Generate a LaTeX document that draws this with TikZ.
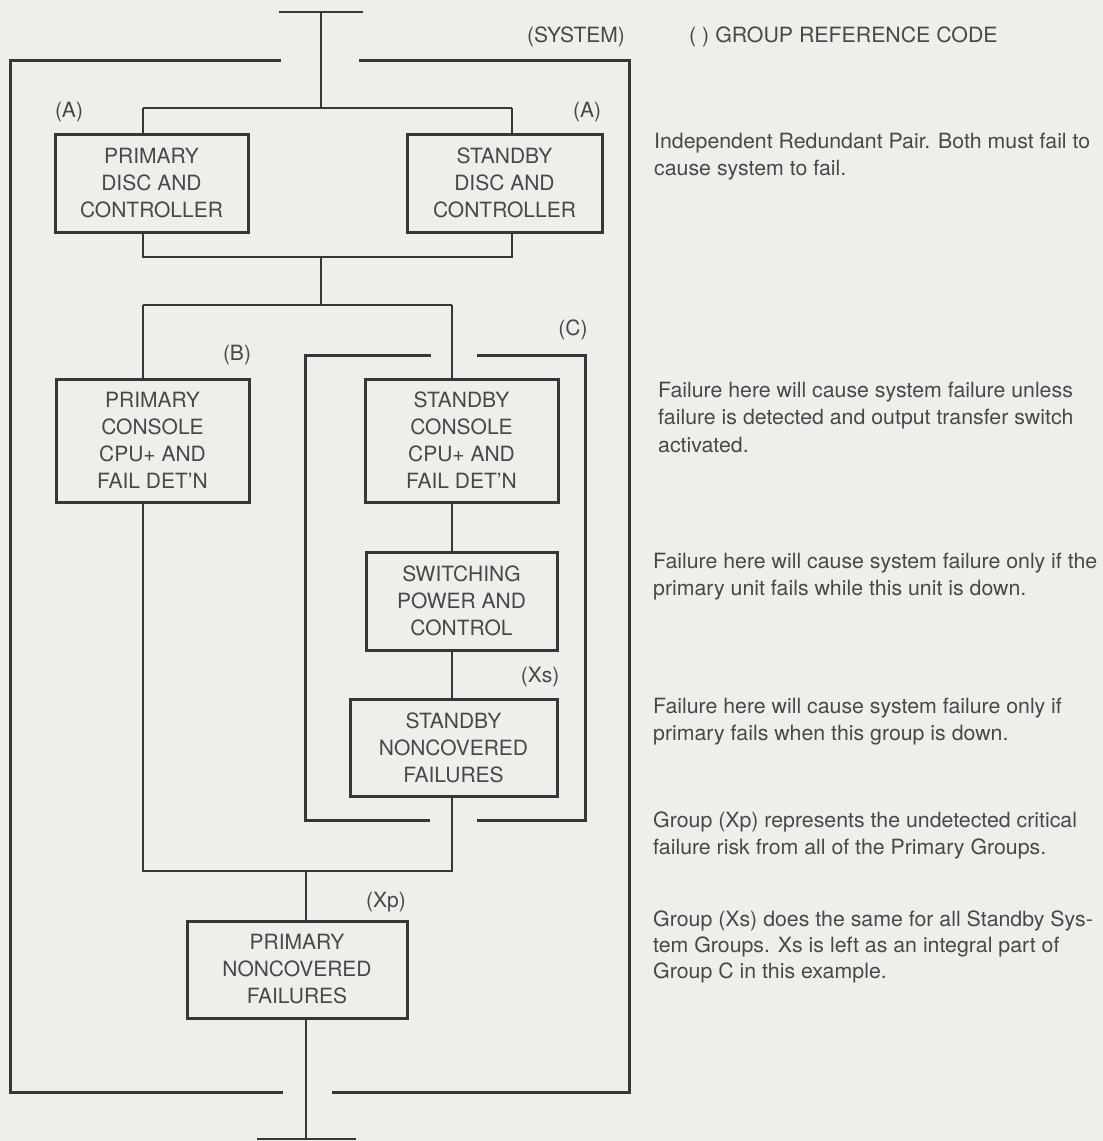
\documentclass[tikz,border=0pt]{standalone}
\usepackage{fontspec}
\setmainfont{TeX Gyre Heros}
\newfontfamily\notefam[FakeStretch=1.015]{TeX Gyre Heros}
\definecolor{bg}{RGB}{238,238,235}
\definecolor{ink}{RGB}{55,55,55}
\definecolor{txt}{RGB}{72,72,72}
\newcommand{\bxfont}{\fontsize{21}{27}\selectfont}
\newcommand{\ntfont}{\notefam\fontsize{21}{27}\selectfont}
\begin{document}
\begin{tikzpicture}[x=1pt,y=-1pt,
  conn/.style={draw=ink,line width=2pt},
  bracket/.style={draw=ink,line width=3pt,line join=miter},
  blk/.style={draw=ink,line width=3pt,align=center,text=txt,font=\bxfont,inner sep=0pt},
  lbl/.style={text=txt,font=\bxfont,inner sep=0pt},
  note/.style={text=txt,font=\ntfont,inner sep=0pt,anchor=base west}]
\fill[bg] (0,0) rectangle (1103,1141);
\useasboundingbox (0,0) rectangle (1103,1141);

% system bracket
\draw[bracket] (281,60) -- (10,60) -- (10,1092) -- (283,1092);
\draw[bracket] (359,60) -- (629,60) -- (629,1092) -- (332,1092);
% group C bracket
\draw[bracket] (431,355) -- (305,355) -- (305,820) -- (430,820);
\draw[bracket] (477,355) -- (585,355) -- (585,820) -- (477,820);

% boxes
\node[blk,minimum width=193pt,minimum height=98pt] (pd) at (151.5,183) {PRIMARY\\DISC AND\\CONTROLLER};
\node[blk,minimum width=195pt,minimum height=98pt] (sd) at (504.5,183) {STANDBY\\DISC AND\\CONTROLLER};
\node[blk,minimum width=193pt,minimum height=123pt] (pc) at (152.5,440.5) {PRIMARY\\CONSOLE\\CPU+ AND\\FAIL DET'N};
\node[blk,minimum width=193pt,minimum height=123pt] (sc) at (461.5,440.5) {STANDBY\\CONSOLE\\CPU+ AND\\FAIL DET'N};
\node[blk,minimum width=191pt,minimum height=98pt] (sw) at (461.5,601) {SWITCHING\\POWER AND\\CONTROL};
\node[blk,minimum width=207pt,minimum height=97pt] (snc) at (453.5,747.5) {STANDBY\\NONCOVERED\\FAILURES};
\node[blk,minimum width=220pt,minimum height=97pt] (pnc) at (297,969.5) {PRIMARY\\NONCOVERED\\FAILURES};

% junction coordinates
\coordinate (inTop) at (321,12);
\coordinate (inL) at (279,12);
\coordinate (inR) at (363,12);
\coordinate (jA1) at (321,108);
\coordinate (jA2) at (321,257);
\coordinate (jB1) at (321,305);
\coordinate (a1) at (143,108);
\coordinate (a2) at (512,108);
\coordinate (a3) at (143,257);
\coordinate (a4) at (512,257);
\coordinate (b1) at (143,305);
\coordinate (b2) at (452,305);
\coordinate (b3) at (143,871);
\coordinate (b4) at (452,871);
\coordinate (jB2) at (306,871);
\coordinate (out) at (306,1139);
\coordinate (outL) at (257,1139);
\coordinate (outR) at (356,1139);

% connectors
\draw[conn] (inL) -- (inR);
\draw[conn] (inTop) -- (jA1);
\draw[conn] (a1) -- (a2);
\draw[conn] (a1) -- (a1 |- pd.north);
\draw[conn] (a2) -- (a2 |- sd.north);
\draw[conn] (a1 |- pd.south) -- (a3) -- (a4) -- (a2 |- sd.south);
\draw[conn] (jA2) -- (jB1);
\draw[conn] (b1) -- (b2);
\draw[conn] (b1) -- (b1 |- pc.north);
\draw[conn] (b1 |- pc.south) -- (b3) -- (b4) -- (b2 |- snc.south);
\draw[conn] (b2) -- (b2 |- sc.north);
\draw[conn] (b2 |- sc.south) -- (b2 |- sw.north);
\draw[conn] (b2 |- sw.south) -- (b2 |- snc.north);
\draw[conn] (jB2) -- (jB2 |- pnc.north);
\draw[conn] (jB2 |- pnc.south) -- (out);
\draw[conn] (outL) -- (outR);

% group labels
\node[lbl] (lA1) at (69,112) {(A)};
\node[lbl] (lA2) at (587,112) {(A)};
\node[lbl] (lB) at (237,355) {(B)};
\node[lbl] (lC) at (573,330) {(C)};
\node[lbl] (lXs) at (540,677) {(Xs)};
\node[lbl] (lXp) at (386,902) {(Xp)};
\node[lbl,anchor=base] (lSys) at (576,42) {(SYSTEM)};
\node[note] (legend) at (689,42) {( ) GROUP REFERENCE CODE};

% notes
\node[note] (n1a) at (654,148) {Independent Redundant Pair. Both must fail to};
\node[note] (n1b) at (654,175) {cause system to fail.};
\node[note] (n2a) at (658,397) {Failure here will cause system failure unless};
\node[note] (n2b) at (658,424.5) {failure is detected and output transfer switch};
\node[note] (n2c) at (658,452) {activated.};
\node[note] (n3a) at (653,568) {Failure here will cause system failure only if the};
\node[note] (n3b) at (653,595) {primary unit fails while this unit is down.};
\node[note] (n4a) at (653,713) {Failure here will cause system failure only if};
\node[note] (n4b) at (653,740) {primary fails when this group is down.};
\node[note] (n5a) at (653,827) {Group (Xp) represents the undetected critical};
\node[note] (n5b) at (653,854) {failure risk from all of the Primary Groups.};
\node[note] (n6a) at (653,926) {Group (Xs) does the same for all Standby Sys-};
\node[note] (n6b) at (653,952) {tem Groups. Xs is left as an integral part of};
\node[note] (n6c) at (653,978) {Group C in this example.};
\end{tikzpicture}
\end{document}
